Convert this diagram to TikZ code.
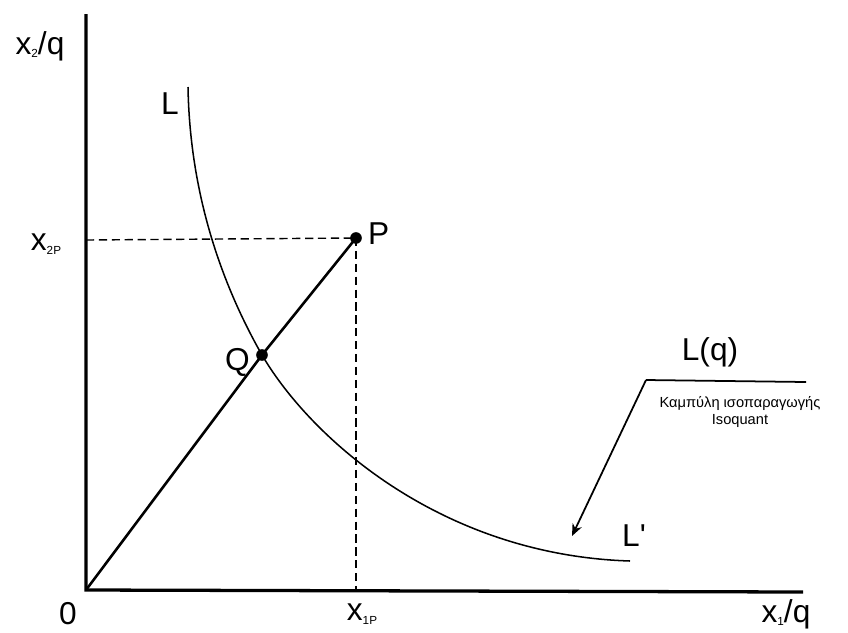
\documentclass[tikz,border=0pt]{standalone}
\usepackage{fontspec}
\setmainfont{Liberation Sans}
\newfontfamily\rawsans{Liberation Sans}
\usepackage{tikz}
\usetikzlibrary{arrows.meta,positioning}

\newcommand{\subsc}[1]{\raisebox{-0.2ex}{\fontsize{10}{10}\selectfont #1}}

\begin{document}
\begin{tikzpicture}[
    x=0.03cm, y=-0.03cm,
    >={Stealth[length=3.6mm, width=3mm]},
    lbl/.style     ={font=\fontsize{27}{30}\selectfont, inner sep=1pt},
    note/.style    ={font=\fontsize{12.5}{14}\selectfont, align=center, inner sep=1pt},
    axis/.style    ={line width=2.8pt, draw=black},
    guide/.style   ={dashed, dash pattern=on 7pt off 4pt, line width=1.2pt},
    ray/.style     ={line width=2.2pt},
    curve/.style   ={line width=1.3pt},
    pointer/.style ={->, line width=1.5pt},
    dot/.style     ={circle, fill=black, inner sep=0pt, minimum size=3.5mm}
]
\useasboundingbox (0,0) rectangle (848,632);

% --- Axes. ---
\coordinate (O)    at (86,590);
\coordinate (ytop) at (86,14);
\coordinate (xend) at (803,592);
\draw[axis] (ytop) -- (O) -- (xend);

\node[lbl] (zero) at (68,614)  {0};
\node[lbl] (ylab) at (40,46)   {x\subsc{2}/q};
\node[lbl] (xlab) at (786,614) {x\subsc{1}/q};

% --- Points P and Q on the ray from the origin. ---
\node[dot] (P) at (356,238) {};
\node[dot] (Q) at (262,355) {};
\node[lbl, right=4pt of P, yshift=4pt] (Plab) {P};
\node[lbl, left=4pt of Q, yshift=-6pt] (Qlab) {Q};

\draw[ray] (O) -- (Q.center) -- (P.center);

% --- Dashed guides to the axes. ---
\coordinate (x2P) at (86,240);
\coordinate (x1P) at (356,590);
\draw[guide] (x2P) -- (P.center);
\draw[guide] (P.center) -- (x1P);
\node[lbl] (x2Plab) at (46,244)  {x\subsc{2P}};
\node[lbl] (x1Plab) at (362,614) {x\subsc{1P}};

% --- Isoquant L--L', through Q. ---
\coordinate (Lstart) at (188,87);
\coordinate (Lstop)  at (630,561);
\draw[curve] (Lstart) .. controls (190,200) and (225,290) .. (Q.center)
                      .. controls (310,437) and (440,555) .. (Lstop);
\node[lbl] (Ltop) at (170,104) {L};
\node[lbl] (Lend) at (634,536) {\rawsans L'};

% --- Label L(q) with its pointer to the curve. ---
\node[lbl] (Lq) at (710,352) {L(q)};
\coordinate (lqcorner) at (646,380);
\coordinate (lqend)    at (806,382);
\coordinate (lqtip)    at (572,536);
\draw[line width=1.5pt] (lqend) -- (lqcorner);
\draw[pointer] (lqcorner) -- (lqtip);
\node[note] (isoq) at (740,412) {Καμπύλη ισοπαραγωγής\\Isoquant};

\end{tikzpicture}
\end{document}
